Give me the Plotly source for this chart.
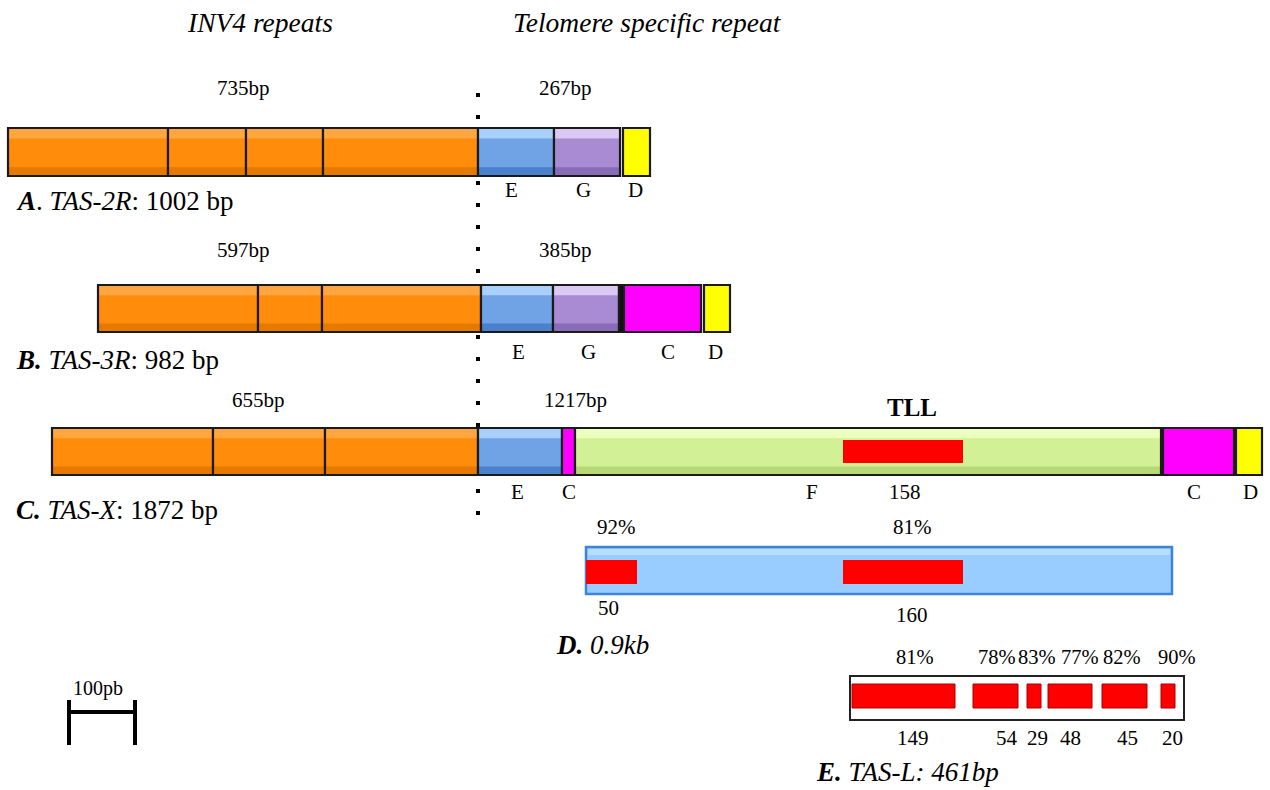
import plotly.graph_objects as go

W, H = 1270, 790
FONT = "Liberation Serif"

COLORS = {
    "orange": ("#ff8c0a", "#ffa640", "#e67a00"),
    "blue": ("#6fa3e6", "#a9d0fb", "#4a80cc"),
    "purple": ("#a98bd3", "#dcc8f5", "#8a6bb8"),
    "yellow": ("#ffff00", "#ffff00", "#f0f000"),
    "magenta": ("#ff00ff", "#ff00ff", "#e800e8"),
    "green": ("#d2f096", "#eaffc0", "#b8d878"),
    "black": ("#111111", "#111111", "#111111"),
}

# ---- data: segment boundaries (diagram units) ----
A_x0 = [8, 168, 246, 323, 478, 554, 623]
A_x1 = [168, 246, 323, 478, 554, 620, 650]
A_col = ["orange", "orange", "orange", "orange", "blue", "purple", "yellow"]
A_y = (128, 176)

B_x0 = [98, 258, 322, 481, 553, 619, 624, 704]
B_x1 = [258, 322, 481, 553, 619, 624, 701, 730]
B_col = ["orange", "orange", "orange", "blue", "purple", "black", "magenta", "yellow"]
B_y = (285, 332)

C_x0 = [52, 213, 325, 478, 562, 575, 1163, 1236]
C_x1 = [213, 325, 478, 562, 575, 1161, 1234, 1262]
C_col = ["orange", "orange", "orange", "blue", "magenta", "green", "magenta", "yellow"]
C_y = (428, 475)
C_red = [(843, 963)]

D_box = (586, 1172)
D_y = (547, 594)
D_red = [(586, 637), (843, 963)]
D_top_labels = ["92%", "81%"]
D_top_x = [616, 912]
D_bot_labels = ["50", "160"]
D_bot_x = [608, 912]
D_bot_y = [608, 615]

E_box = (850, 1184)
E_y = (676, 720)
E_red = [(852, 955), (973, 1018), (1027, 1041), (1048, 1092), (1102, 1147), (1161, 1175)]
E_top_labels = ["81%", "78%", "83%", "77%", "82%", "90%"]
E_top_x = [915, 997, 1037, 1080, 1122, 1177]
E_bot_labels = ["149", "54", "29", "48", "45", "20"]
E_bot_x = [913, 1007, 1037, 1070, 1127, 1172]

seg_labels = [  # (text, x, y)
    ("E", 511, 190), ("G", 583, 190), ("D", 635, 190),
    ("E", 518, 352), ("G", 588, 352), ("C", 668, 352), ("D", 715, 352),
    ("E", 517, 492), ("C", 569, 492), ("F", 812, 492), ("158", 905, 492),
    ("C", 1194, 492), ("D", 1250, 492),
]
len_labels = [("735bp", 243, 88), ("267bp", 565, 88),
              ("597bp", 243, 250), ("385bp", 565, 250),
              ("655bp", 258, 400), ("1217bp", 575, 400)]

fig = go.Figure()
shapes = []
annotations = []


def rect(x0, x1, y0, y1, fill, line_color="rgba(0,0,0,0)", lw=0, layer="above"):
    shapes.append(dict(type="rect", xref="x", yref="y", x0=x0, x1=x1, y0=y0, y1=y1,
                       fillcolor=fill, line=dict(color=line_color, width=lw), layer=layer))


def draw_row(x0s, x1s, cols, yr):
    y0, y1 = yr
    h = y1 - y0
    for a, b, c in zip(x0s, x1s, cols):
        base, light, dark = COLORS[c]
        rect(a, b, y0, y1, base)
        if c not in ("black", "yellow", "magenta"):
            rect(a + 1, b - 1, y0 + 1, y0 + h * 0.22, light)
            rect(a + 1, b - 1, y1 - h * 0.18, y1 - 1, dark)
        rect(a, b, y0, y1, "rgba(0,0,0,0)", "#1a1a1a", 2.2)


# dotted vertical divider (drawn below)
shapes.append(dict(type="line", xref="x", yref="y", x0=478, x1=478, y0=93, y1=525,
                   line=dict(color="black", width=4, dash="4px,18px"), layer="below"))

draw_row(A_x0, A_x1, A_col, A_y)
draw_row(B_x0, B_x1, B_col, B_y)
draw_row(C_x0, C_x1, C_col, C_y)
for a, b in C_red:
    rect(a, b, 440, 463, "#ff0000")

# D box
rect(D_box[0], D_box[1], D_y[0], D_y[1], "#99ccff", "#3d85d6", 2.5)
rect(D_box[0] + 2, D_box[1] - 2, D_y[0] + 2, D_y[0] + 8, "#b8ddff")
for a, b in D_red:
    rect(a, b, 560, 584, "#ff0000")

# E box
rect(E_box[0], E_box[1], E_y[0], E_y[1], "white", "#222222", 2)
for a, b in E_red:
    rect(a, b, 684, 708, "#ff0000", "#aa0000", 1)

# scale bar
shapes.append(dict(type="line", xref="x", yref="y", x0=69, x1=135, y0=712, y1=712,
                   line=dict(color="black", width=4)))
for xx in (69, 135):
    shapes.append(dict(type="line", xref="x", yref="y", x0=xx, x1=xx, y0=700, y1=745,
                       line=dict(color="black", width=4)))


def txt(t, x, y, size=21, xanchor="center", **kw):
    annotations.append(dict(text=t, x=x, y=y, xref="x", yref="y", showarrow=False,
                            xanchor=xanchor, yanchor="middle",
                            font=dict(family=FONT, size=size, color="black"), **kw))


txt("<i>INV4 repeats</i>", 260, 22, size=27.5)
txt("<i>Telomere specific repeat</i>", 647, 22, size=27.5)
for t, x, y in len_labels:
    txt(t, x, y, size=21)
for t, x, y in seg_labels:
    txt(t, x, y, size=21)
txt("<b>TLL</b>", 912, 407, size=25)
txt("<b><i>A</i></b>. <i>TAS-2R</i>: 1002 bp", 14, 201, size=27, xanchor="left")
txt("<b><i>B.</i></b> <i>TAS-3R</i>: 982 bp", 14, 360, size=27, xanchor="left")
txt("<b><i>C.</i></b> <i>TAS-X</i>: 1872 bp", 14, 510, size=27, xanchor="left")
for t, x in zip(D_top_labels, D_top_x):
    txt(t, x, 527, size=21)
for t, x, y in zip(D_bot_labels, D_bot_x, D_bot_y):
    txt(t, x, y, size=21)
txt("<b><i>D.</i></b><i> 0.9kb</i>", 554, 645, size=27, xanchor="left")
for t, x in zip(E_top_labels, E_top_x):
    txt(t, x, 657, size=20.5)
for t, x in zip(E_bot_labels, E_bot_x):
    txt(t, x, 738, size=21)
txt("<b><i>E.</i></b><i> TAS-L: 461bp</i>", 814, 772, size=27, xanchor="left")
txt("100pb", 98, 688, size=20)

fig.update_layout(
    width=W, height=H, margin=dict(l=0, r=0, t=0, b=0),
    paper_bgcolor="white", plot_bgcolor="white",
    xaxis=dict(range=[0, W], visible=False, fixedrange=True),
    yaxis=dict(range=[H, 0], visible=False, fixedrange=True),
    shapes=shapes, annotations=annotations, showlegend=False,
)
fig.write_html("out.html", config={"displayModeBar": False},
               post_script="document.body.style.margin='0';document.body.style.overflow='hidden';")
